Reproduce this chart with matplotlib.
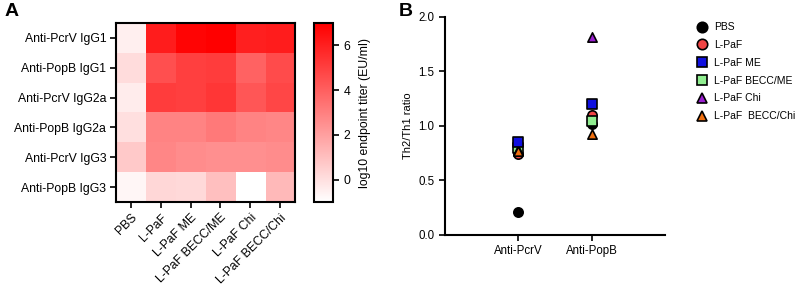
import numpy as np
import matplotlib
matplotlib.use("Agg")
import matplotlib.pyplot as plt
from matplotlib.colors import LinearSegmentedColormap
from matplotlib.lines import Line2D

plt.rcParams['font.family'] = ['Liberation Sans', 'DejaVu Sans']

# ---- Panel A data ----
groups = ["PBS", "L-PaF", "L-PaF ME", "L-PaF BECC/ME", "L-PaF Chi", "L-PaF BECC/Chi"]
antibodies = ["Anti-PcrV IgG1", "Anti-PopB IgG1", "Anti-PcrV IgG2a",
              "Anti-PopB IgG2a", "Anti-PcrV IgG3", "Anti-PopB IgG3"]
pcrv_igg1 = [-0.5, 6.1, 6.85, 7.0, 6.0, 6.1]
popb_igg1 = [0.1, 4.5, 5.0, 5.1, 3.9, 4.65]
pcrv_igg2a = [-0.4, 5.1, 5.0, 5.3, 4.3, 4.8]
popb_igg2a = [0.0, 2.9, 2.9, 3.2, 2.9, 2.8]
pcrv_igg3 = [0.7, 2.8, 2.6, 2.5, 2.5, 2.6]
popb_igg3 = [-0.7, 0.25, 0.2, 1.0, -1.0, 1.2]
cbar_ticks = [0, 2, 4, 6]

# ---- Panel B data ----
antigens = ["Anti-PcrV", "Anti-PopB"]
series_names = ["PBS", "L-PaF", "L-PaF ME", "L-PaF BECC/ME", "L-PaF Chi", "L-PaF  BECC/Chi"]
ratio_pbs = [0.21, 1.02]
ratio_lpaf = [0.74, 1.10]
ratio_me = [0.85, 1.20]
ratio_becc_me = [0.80, 1.05]
ratio_chi = [0.78, 1.82]
ratio_becc_chi = [0.77, 0.93]

fig = plt.figure(figsize=(8.09, 2.9), dpi=100)

# Heatmap
axA = fig.add_axes([0.1434, 0.3034, 0.2213, 0.6172])
mat = np.array([pcrv_igg1, popb_igg1, pcrv_igg2a, popb_igg2a, pcrv_igg3, popb_igg3])
cmap = LinearSegmentedColormap.from_list("wr", ["#ffffff", "#ff0000"])
im = axA.imshow(mat, cmap=cmap, vmin=-1, vmax=7, aspect='auto', interpolation='nearest')
axA.set_xticks(range(len(groups)))
axA.set_xticklabels(groups, rotation=45, ha='right', rotation_mode='anchor', fontsize=8.8)
axA.set_yticks(range(len(antibodies)))
axA.set_yticklabels(antibodies, fontsize=8.8)
axA.tick_params(direction='out', length=4, width=1.2, pad=3)
for s in axA.spines.values():
    s.set_linewidth(1.5)

cax = fig.add_axes([0.388, 0.3034, 0.0235, 0.6172])
cb = fig.colorbar(im, cax=cax, ticks=cbar_ticks)
cb.outline.set_linewidth(1.5)
cax.tick_params(labelsize=8.8, length=4, width=1.2)
cb.set_label("log10 endpoint titer (EU/ml)", fontsize=8.8, labelpad=6)

fig.text(0.005, 0.99, "A", fontsize=14, fontweight='bold', va='top', ha='left')
fig.text(0.493, 0.99, "B", fontsize=14, fontweight='bold', va='top', ha='left')

# Scatter panel
axB = fig.add_axes([0.550, 0.1897, 0.272, 0.7517])
xpos = np.arange(1, len(antigens) + 1)
styles = [
    (ratio_pbs, 'o', '#000000'),
    (ratio_lpaf, 'o', '#f04545'),
    (ratio_becc_me, 's', '#90ee90'),
    (ratio_chi, '^', '#9b1fd1'),
    (ratio_becc_chi, '^', '#f07010'),
    (ratio_me, 's', '#1010e0'),
]
for vals, m, c in styles:
    axB.scatter(xpos, vals, marker=m, s=45, facecolor=c, edgecolor='black', linewidth=1.2, zorder=3)
axB.set_xlim(0, 3)
axB.set_ylim(0, 2)
axB.set_yticks([0, 0.5, 1.0, 1.5, 2.0])
axB.set_yticklabels(["0.0", "0.5", "1.0", "1.5", "2.0"])
axB.set_xticks(xpos)
axB.set_xticklabels(antigens)
axB.tick_params(labelsize=8.3, direction='out', length=4, width=1.2)
axB.set_ylabel("Th2/Th1 ratio", fontsize=8)
for sp in ['top', 'right']:
    axB.spines[sp].set_visible(False)
for sp in ['left', 'bottom']:
    axB.spines[sp].set_linewidth(1.5)

leg_specs = [('o', '#000000'), ('o', '#f04545'), ('s', '#1010e0'),
             ('s', '#90ee90'), ('^', '#9b1fd1'), ('^', '#f07010')]
handles = [Line2D([], [], marker=m, linestyle='none', markersize=7.5, markerfacecolor=c,
                  markeredgecolor='black', markeredgewidth=1.2) for m, c in leg_specs]
fig.legend(handles, series_names, loc='upper left', bbox_to_anchor=(0.853, 0.938),
           frameon=False, fontsize=7.5, handlelength=1.4, handletextpad=0.5,
           labelspacing=0.75, borderaxespad=0)

fig.savefig("out.png", dpi=100)
